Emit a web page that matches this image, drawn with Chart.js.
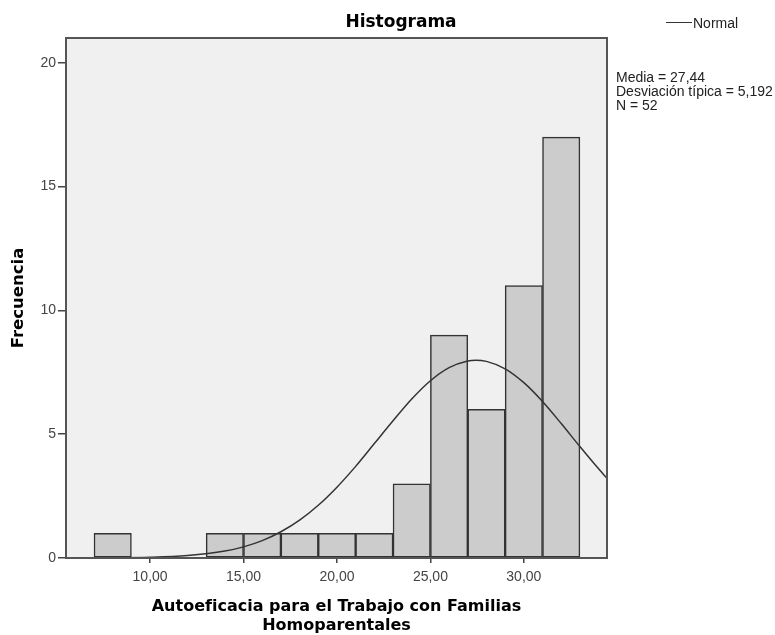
<!DOCTYPE html>
<html lang="es">
<head>
  <meta charset="UTF-8">
  <title>Histograma</title>
  <script src="https://cdn.jsdelivr.net/npm/chart.js"></script>
  <style>
    body {
      margin: 0;
      background: #fff;
    }

    .wrap {
      position: relative;
      width: 775px;
      height: 635px;
    }

    /* text around the plot, placed like the SPSS output */
    .chart-title {
      position: absolute;
      left: 401px;
      top: 11px;
      transform: translateX(-50%);
      font: bold 17px 'DejaVu Sans', sans-serif;
      line-height: 20px;
      color: #000;
      white-space: nowrap;
    }

    .legend-line {
      position: absolute;
      left: 666px;
      top: 22px;
      width: 26px;
      height: 1px;
      background: #333;
    }

    .legend-text {
      position: absolute;
      left: 693px;
      top: 15px;
      font: 14px 'Liberation Sans', Arial, sans-serif;
      line-height: 16px;
      color: #222;
    }

    .stats {
      position: absolute;
      left: 616px;
      top: 70px;
      font: 14px 'Liberation Sans', Arial, sans-serif;
      line-height: 14px;
      color: #222;
      white-space: nowrap;
    }

    canvas {
      position: absolute;
      left: 0;
      top: 0;
    }
  </style>
</head>
<body>

<div class="wrap">
  <canvas id="histChart" width="775" height="635"></canvas>
  <div class="chart-title">Histograma</div>
  <div class="legend-line"></div>
  <div class="legend-text">Normal</div>
  <div class="stats">Media = 27,44<br>Desviación típica = 5,192<br>N = 52</div>
</div>

<script>
  // histogram bins (width 2), centre of each bin
  var binCenters = [8, 10, 12, 14, 16, 18, 20, 22, 24, 26, 28, 30, 32];
  var frequencies = [1, 0, 0, 1, 1, 1, 1, 1, 3, 9, 6, 11, 17];

  // normal curve
  var normalX = [5.5, 8, 10, 12, 14, 15, 16, 17, 18, 19, 20, 21, 22, 23, 24, 25, 26, 27, 27.44, 28, 29, 30, 31, 32, 33, 34, 34.45];
  var normalY = [0, 0.01, 0.03, 0.1, 0.28, 0.45, 0.7, 1.06, 1.53, 2.13, 2.86, 3.7, 4.62, 5.54, 6.42, 7.16, 7.69, 7.96, 7.99, 7.94, 7.64, 7.08, 6.32, 5.43, 4.5, 3.6, 3.22];

  var xTicks = [10, 15, 20, 25, 30];
  var yTicks = [0, 5, 10, 15, 20];

  // grey plot background and the frame around it
  var plotFrame = {
    id: 'plotFrame',
    beforeDraw: function(chart) {
      var a = chart.chartArea, ctx = chart.ctx;
      ctx.save();
      ctx.fillStyle = '#f0f0f0';
      ctx.fillRect(a.left, a.top, a.right - a.left, a.bottom - a.top);
      ctx.restore();
    },
    afterDraw: function(chart) {
      var a = chart.chartArea, ctx = chart.ctx;
      ctx.save();
      ctx.strokeStyle = '#555';
      ctx.lineWidth = 2;
      ctx.strokeRect(a.left, a.top, a.right - a.left, a.bottom - a.top);
      ctx.restore();
    }
  };

  var tickFont = { family: "'Liberation Sans', Arial, sans-serif", size: 14 };

  new Chart(document.getElementById('histChart'), {
    type: 'bar',
    data: {
      datasets: [{
        type: 'line',
        label: 'Normal',
        data: normalX.map(function(x, i) { return { x: x, y: normalY[i] }; }),
        borderColor: '#333',
        borderWidth: 1.5,
        pointRadius: 0,
        cubicInterpolationMode: 'monotone',
        fill: false
      }, {
        label: 'Frecuencia',
        data: binCenters.map(function(x, i) { return { x: x, y: frequencies[i] }; }),
        backgroundColor: '#cccccc',
        borderColor: '#333',
        borderWidth: 1.5,
        borderSkipped: false,
        barPercentage: 1,
        categoryPercentage: 1
      }]
    },
    options: {
      responsive: false,
      animation: false,
      layout: {
        padding: { left: 0, right: 168, top: 38, bottom: 0 }
      },
      plugins: {
        legend: { display: false },
        tooltip: { enabled: false }
      },
      scales: {
        x: {
          type: 'linear',
          min: 5.5,
          max: 34.45,
          offset: false,
          afterBuildTicks: function(s) {
            s.ticks = xTicks.map(function(v) { return { value: v }; });
          },
          afterFit: function(s) { s.height = 77; },
          border: { display: false },
          grid: {
            offset: false,
            drawOnChartArea: false,
            drawTicks: true,
            tickLength: 5,
            color: '#444',
            lineWidth: 1.5
          },
          ticks: {
            font: tickFont,
            color: '#444',
            padding: 6,
            maxRotation: 0,
            autoSkip: false,
            callback: function(v) { return v.toFixed(2).replace('.', ','); }
          },
          title: {
            display: true,
            text: ['Autoeficacia para el Trabajo con Familias', 'Homoparentales'],
            color: '#000',
            font: { family: "'DejaVu Sans', sans-serif", weight: 'bold', size: 16, lineHeight: 1.1875 },
            padding: { top: 0, bottom: 0 }
          }
        },
        y: {
          min: 0,
          max: 21,
          afterBuildTicks: function(s) {
            s.ticks = yTicks.map(function(v) { return { value: v }; });
          },
          afterFit: function(s) { s.width = 66; },
          border: { display: false },
          grid: {
            drawOnChartArea: false,
            drawTicks: true,
            tickLength: 8,
            color: '#444',
            lineWidth: 1.5
          },
          ticks: {
            font: tickFont,
            color: '#444',
            padding: 2
          },
          title: {
            display: true,
            text: 'Frecuencia',
            color: '#000',
            font: { family: "'DejaVu Sans', sans-serif", weight: 'bold', size: 16.5 },
            padding: { top: 9, bottom: 0 }
          }
        }
      }
    },
    plugins: [plotFrame]
  });
</script>

</body>
</html>
